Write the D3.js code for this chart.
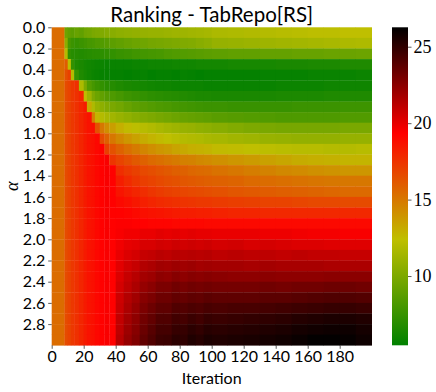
<!DOCTYPE html>
<html>
<head>
<meta charset="utf-8">
<script src="https://cdn.jsdelivr.net/npm/d3@7"></script>
<style>
  body { margin: 0; background: #fff; }
  svg text { fill: #000; }
  .sans { font-family: Lato, "Liberation Sans", sans-serif; }
  .serif { font-family: "Liberation Serif", "DejaVu Serif", serif; }
</style>
</head>
<body>
<svg id="chart" width="436" height="392"></svg>
<script>
// alpha rows (0.0 .. 2.9)
var alphas = [0.0, 0.1, 0.2, 0.3, 0.4, 0.5, 0.6, 0.7, 0.8, 0.9,
              1.0, 1.1, 1.2, 1.3, 1.4, 1.5, 1.6, 1.7, 1.8, 1.9,
              2.0, 2.1, 2.2, 2.3, 2.4, 2.5, 2.6, 2.7, 2.8, 2.9];

// iteration blocks: each value in a row covers [start, next start)
var iterStarts = [0, 8, 10, 12, 14, 17, 20, 22, 25, 27, 30, 33, 36, 40, 45, 50, 55, 60, 65,
                  70, 75, 80, 85, 90, 95, 100, 110, 120, 130, 140, 150, 160, 170, 180, 190];
var iterEnd = 200;

var yTicks = [0.0, 0.2, 0.4, 0.6, 0.8, 1.0, 1.2, 1.4, 1.6, 1.8, 2.0, 2.2, 2.4, 2.6, 2.8];
var xTicks = [0, 20, 40, 60, 80, 100, 120, 140, 160, 180];
var cbarTicks = [10, 15, 20, 25];
var cbarMin = 5.47, cbarMax = 26.27;

// mean rank per alpha row, one value per iteration block
var ranks = [
  [15.4, 9.4, 9.0, 8.8, 9.2, 9.0, 9.5, 9.6, 9.9, 10.0, 10.1, 10.3, 10.4, 10.6, 10.7, 10.8, 10.9, 11.0, 11.0, 11.1, 11.2, 11.2, 11.3, 11.4, 11.5, 11.7, 11.8, 11.9, 12.0, 12.1, 12.2, 12.3, 12.3, 12.4, 12.4],
  [15.4, 10.5, 8.0, 7.6, 7.4, 7.6, 7.8, 8.0, 8.1, 8.3, 8.4, 8.6, 8.8, 9.0, 9.2, 9.4, 9.5, 9.7, 9.8, 9.9, 10.0, 10.1, 10.2, 10.4, 10.6, 10.9, 11.0, 11.1, 11.2, 11.3, 11.4, 11.5, 11.6, 11.7, 11.8],
  [15.4, 12.0, 7.2, 6.9, 6.8, 6.7, 6.8, 6.9, 7.0, 7.0, 7.1, 7.2, 7.3, 7.5, 7.6, 7.8, 7.9, 8.0, 8.1, 8.3, 8.4, 8.5, 8.6, 8.7, 8.8, 8.9, 9.0, 9.0, 9.1, 9.1, 9.2, 9.2, 9.3, 9.3, 9.4],
  [15.4, 16.0, 12.3, 7.3, 6.6, 6.4, 6.2, 6.1, 6.0, 5.9, 5.9, 5.8, 5.8, 5.8, 5.8, 5.9, 5.9, 6.0, 6.0, 6.0, 6.1, 6.1, 6.1, 6.2, 6.2, 6.2, 6.3, 6.3, 6.3, 6.4, 6.4, 6.5, 6.5, 6.6, 6.6],
  [15.4, 16.5, 17.0, 12.0, 7.4, 6.6, 6.3, 6.1, 5.9, 5.8, 5.7, 5.7, 5.6, 5.6, 5.5, 5.6, 5.7, 5.5, 5.6, 5.6, 5.5, 5.7, 5.6, 5.5, 5.6, 5.6, 5.6, 5.6, 5.7, 5.7, 5.7, 5.8, 5.8, 5.8, 5.9],
  [15.4, 16.6, 16.9, 17.3, 17.6, 11.8, 10.0, 8.5, 8.0, 7.6, 7.3, 7.0, 6.8, 6.6, 6.4, 6.3, 6.2, 6.1, 6.0, 6.0, 5.9, 5.9, 5.9, 5.9, 5.8, 5.8, 5.8, 5.8, 5.8, 5.9, 5.9, 5.9, 6.0, 6.0, 6.0],
  [15.4, 16.6, 16.9, 17.3, 17.6, 18.0, 12.5, 11.2, 10.0, 9.4, 9.0, 8.6, 8.3, 8.0, 7.7, 7.5, 7.3, 7.1, 7.0, 6.9, 6.8, 6.7, 6.6, 6.5, 6.5, 6.4, 6.4, 6.4, 6.4, 6.5, 6.5, 6.5, 6.6, 6.6, 6.6],
  [15.4, 16.6, 16.9, 17.3, 17.6, 18.0, 18.4, 13.2, 11.8, 11.0, 10.6, 10.2, 9.9, 9.6, 9.2, 8.9, 8.7, 8.5, 8.3, 8.2, 8.0, 7.9, 7.8, 7.7, 7.6, 7.6, 7.5, 7.5, 7.5, 7.5, 7.6, 7.6, 7.6, 7.7, 7.7],
  [15.4, 16.6, 16.9, 17.3, 17.6, 18.0, 18.4, 18.7, 14.8, 12.8, 12.0, 11.6, 11.3, 11.0, 10.7, 10.4, 10.2, 10.0, 9.8, 9.6, 9.4, 9.2, 9.1, 9.0, 8.9, 8.7, 8.6, 8.5, 8.4, 8.3, 8.3, 8.3, 8.3, 8.4, 8.4],
  [15.4, 16.6, 16.9, 17.3, 17.6, 18.0, 18.4, 18.7, 18.8, 16.4, 15.0, 14.2, 13.6, 13.0, 12.6, 12.3, 12.1, 11.9, 11.6, 11.4, 11.2, 11.0, 10.9, 10.7, 10.6, 10.4, 10.2, 10.0, 9.9, 9.8, 9.8, 9.8, 9.8, 9.9, 9.9],
  [15.4, 16.6, 16.9, 17.3, 17.6, 18.0, 18.4, 18.7, 18.8, 19.1, 16.6, 15.8, 15.0, 14.4, 13.9, 13.5, 13.1, 12.8, 12.6, 12.4, 12.2, 12.0, 11.9, 11.8, 11.6, 11.5, 11.3, 11.2, 11.0, 10.9, 10.8, 10.8, 10.8, 10.9, 10.9],
  [15.4, 16.6, 16.9, 17.3, 17.6, 18.0, 18.4, 18.7, 18.8, 19.1, 19.3, 17.0, 16.4, 15.8, 15.3, 14.9, 14.5, 14.2, 13.9, 13.7, 13.4, 13.2, 13.0, 12.9, 12.8, 12.6, 12.5, 12.4, 12.3, 12.2, 12.1, 12.1, 12.0, 12.0, 12.1],
  [15.4, 16.6, 16.9, 17.3, 17.6, 18.0, 18.4, 18.7, 18.8, 19.1, 19.3, 19.5, 17.4, 16.9, 16.5, 16.1, 15.8, 15.5, 15.3, 15.1, 14.9, 14.7, 14.6, 14.4, 14.3, 14.1, 13.9, 13.7, 13.5, 13.3, 13.1, 13.0, 12.9, 12.8, 12.8],
  [15.4, 16.6, 16.9, 17.3, 17.6, 18.0, 18.4, 18.7, 18.8, 19.1, 19.3, 19.5, 19.3, 17.7, 17.3, 17.0, 16.7, 16.5, 16.3, 16.1, 15.9, 15.8, 15.6, 15.5, 15.4, 15.2, 15.0, 14.8, 14.6, 14.4, 14.3, 14.1, 14.0, 13.9, 13.9],
  [15.4, 16.6, 16.9, 17.3, 17.6, 18.0, 18.4, 18.7, 18.8, 19.1, 19.3, 19.5, 19.3, 18.3, 17.8, 17.4, 17.1, 16.9, 16.7, 16.5, 16.4, 16.2, 16.1, 16.0, 15.9, 15.8, 15.7, 15.5, 15.4, 15.3, 15.2, 15.1, 15.0, 15.0, 15.0],
  [15.4, 16.6, 16.9, 17.3, 17.6, 18.0, 18.4, 18.7, 18.8, 19.1, 19.3, 19.5, 19.3, 18.6, 18.3, 18.0, 17.7, 17.4, 17.2, 17.0, 16.9, 16.8, 16.7, 16.6, 16.5, 16.4, 16.2, 16.1, 16.0, 15.9, 15.8, 15.7, 15.6, 15.5, 15.5],
  [15.4, 16.6, 16.9, 17.3, 17.6, 18.0, 18.4, 18.7, 18.8, 19.1, 19.3, 19.5, 19.3, 19.0, 18.8, 18.5, 18.2, 18.0, 17.8, 17.7, 17.6, 17.5, 17.4, 17.3, 17.3, 17.2, 17.1, 17.0, 16.9, 16.9, 16.8, 16.7, 16.7, 16.6, 16.6],
  [15.4, 16.6, 16.9, 17.3, 17.6, 18.0, 18.4, 18.7, 18.8, 19.1, 19.3, 19.5, 19.3, 19.3, 19.2, 19.0, 18.8, 18.7, 18.6, 18.5, 18.4, 18.3, 18.3, 18.2, 18.2, 18.1, 18.0, 18.0, 17.9, 17.9, 17.9, 17.9, 17.9, 17.9, 17.9],
  [15.4, 16.6, 16.9, 17.3, 17.6, 18.0, 18.4, 18.7, 18.8, 19.1, 19.3, 19.5, 19.3, 19.4, 19.4, 19.3, 19.3, 19.2, 19.2, 19.2, 19.1, 19.1, 19.1, 19.1, 19.0, 19.0, 19.0, 19.0, 19.0, 19.0, 19.0, 19.0, 19.0, 19.0, 19.0],
  [15.4, 16.6, 16.9, 17.3, 17.6, 18.0, 18.4, 18.7, 18.8, 19.1, 19.3, 19.5, 19.3, 19.5, 19.7, 19.7, 19.9, 19.9, 20.1, 20.0, 20.1, 20.0, 20.1, 20.0, 20.0, 19.9, 19.9, 19.9, 19.8, 19.8, 19.7, 19.6, 19.6, 19.5, 19.5],
  [15.4, 16.6, 16.9, 17.3, 17.6, 18.0, 18.4, 18.7, 18.8, 19.1, 19.3, 19.5, 19.3, 19.7, 20.0, 20.1, 20.4, 20.4, 20.6, 20.5, 20.7, 20.6, 20.7, 20.6, 20.7, 20.5, 20.6, 20.4, 20.5, 20.4, 20.3, 20.3, 20.2, 20.2, 20.2],
  [15.4, 16.6, 16.9, 17.3, 17.6, 18.0, 18.4, 18.7, 18.8, 19.1, 19.3, 19.5, 19.3, 19.9, 20.3, 20.5, 20.9, 21.0, 21.2, 21.1, 21.3, 21.2, 21.3, 21.2, 21.3, 21.1, 21.2, 21.1, 21.1, 21.0, 21.1, 21.0, 21.0, 20.9, 20.9],
  [15.4, 16.6, 16.9, 17.3, 17.6, 18.0, 18.4, 18.7, 18.8, 19.1, 19.3, 19.5, 19.3, 20.1, 20.6, 20.9, 21.4, 21.6, 21.9, 21.8, 22.0, 21.9, 22.0, 21.8, 21.9, 21.8, 21.8, 21.7, 21.8, 21.7, 21.7, 21.7, 21.6, 21.6, 21.6],
  [15.4, 16.6, 16.9, 17.3, 17.6, 18.0, 18.4, 18.7, 18.8, 19.1, 19.3, 19.5, 19.3, 20.3, 20.9, 21.3, 21.8, 22.0, 22.4, 22.3, 22.6, 22.4, 22.6, 22.5, 22.6, 22.5, 22.4, 22.4, 22.5, 22.4, 22.4, 22.4, 22.5, 22.5, 22.5],
  [15.4, 16.6, 16.9, 17.3, 17.6, 18.0, 18.4, 18.7, 18.8, 19.1, 19.3, 19.5, 19.3, 20.5, 21.1, 21.6, 22.2, 22.5, 22.9, 22.9, 23.2, 23.0, 23.2, 23.1, 23.2, 23.1, 23.1, 23.1, 23.2, 23.1, 23.2, 23.2, 23.3, 23.3, 23.2],
  [15.4, 16.6, 16.9, 17.3, 17.6, 18.0, 18.4, 18.7, 18.8, 19.1, 19.3, 19.5, 19.3, 20.7, 21.4, 21.9, 22.6, 22.9, 23.3, 23.3, 23.6, 23.5, 23.7, 23.6, 23.8, 23.7, 23.7, 23.7, 23.8, 23.8, 23.9, 24.0, 24.1, 24.1, 24.0],
  [15.4, 16.6, 16.9, 17.3, 17.6, 18.0, 18.4, 18.7, 18.8, 19.1, 19.3, 19.5, 19.3, 20.8, 21.6, 22.2, 22.9, 23.3, 23.7, 23.7, 24.1, 24.0, 24.2, 24.1, 24.3, 24.2, 24.3, 24.3, 24.4, 24.5, 24.6, 24.7, 24.8, 24.8, 24.7],
  [15.4, 16.6, 16.9, 17.3, 17.6, 18.0, 18.4, 18.7, 18.8, 19.1, 19.3, 19.5, 19.3, 21.0, 21.8, 22.4, 23.2, 23.6, 24.1, 24.1, 24.5, 24.4, 24.7, 24.5, 24.8, 24.7, 24.8, 24.9, 25.0, 25.1, 25.3, 25.4, 25.5, 25.5, 25.4],
  [15.4, 16.6, 16.9, 17.3, 17.6, 18.0, 18.4, 18.7, 18.8, 19.1, 19.3, 19.5, 19.3, 21.1, 22.0, 22.6, 23.4, 23.9, 24.4, 24.4, 24.8, 24.8, 25.1, 24.9, 25.2, 25.1, 25.2, 25.3, 25.4, 25.5, 25.7, 25.8, 25.9, 25.9, 25.7],
  [15.4, 16.6, 16.9, 17.3, 17.6, 18.0, 18.4, 18.7, 18.8, 19.1, 19.3, 19.5, 19.3, 21.3, 22.2, 22.8, 23.6, 24.1, 24.6, 24.7, 25.1, 25.0, 25.4, 25.2, 25.5, 25.4, 25.5, 25.6, 25.7, 25.8, 26.0, 26.2, 26.2, 26.1, 25.9]
];

var svg = d3.select("#chart");
var plot = { left: 51.7, top: 27.3, width: 320, height: 318 };

var x = d3.scaleLinear().domain([0, iterEnd]).range([plot.left, plot.left + plot.width]);
var y = d3.scaleLinear().domain([0, 3.0]).range([plot.top, plot.top + plot.height]);
var rowH = y(0.1) - y(0);

var cmapStops = d3.range(4).map(function(i) { return cbarMin + i * (cbarMax - cbarMin) / 3; });
var color = d3.scaleLinear()
  .domain(cmapStops)
  .range(["#008000", "#bfbf00", "#ff0000", "#000000"])
  .interpolate(d3.interpolateRgb)
  .clamp(true);

// heatmap cells
var cells = [];
ranks.forEach(function(row, r) {
  row.forEach(function(v, g) {
    var x0 = iterStarts[g];
    var x1 = g + 1 < iterStarts.length ? iterStarts[g + 1] : iterEnd;
    cells.push({ a: alphas[r], x0: x0, x1: x1, v: v });
  });
});

svg.append("g").classed("cells", true)
  .selectAll("rect").data(cells).join("rect")
  .attr("x", function(d) { return x(d.x0); })
  .attr("y", function(d) { return y(d.a); })
  .attr("width", function(d) { return x(d.x1) - x(d.x0) + 0.3; })
  .attr("height", rowH + 0.3)
  .attr("fill", function(d) { return color(d.v); });

// axes
var yAxis = svg.append("g")
  .attr("transform", "translate(" + plot.left + ",0)")
  .call(d3.axisLeft(y).tickValues(yTicks).tickFormat(d3.format(".1f")).tickSize(3.5).tickPadding(3));
var xAxis = svg.append("g")
  .attr("transform", "translate(0," + (plot.top + plot.height) + ")")
  .call(d3.axisBottom(x).tickValues(xTicks).tickSize(3.5).tickPadding(2));
[yAxis, xAxis].forEach(function(ax) {
  ax.select(".domain").remove();
  ax.selectAll(".tick line").attr("stroke", "#333").attr("stroke-width", 0.8);
  ax.selectAll(".tick text").attr("class", "sans").style("font-size", "16px").attr("fill", "#000");
});

// titles
svg.append("text").attr("class", "sans")
  .attr("x", plot.left + plot.width / 2).attr("y", 21.5)
  .attr("text-anchor", "middle").style("font-size", "20.5px")
  .text("Ranking - TabRepo[RS]");
svg.append("text").attr("class", "sans")
  .attr("x", plot.left + plot.width / 2).attr("y", 384)
  .attr("text-anchor", "middle").style("font-size", "16px")
  .text("Iteration");
svg.append("text").attr("class", "serif")
  .attr("transform", "translate(18," + (plot.top + plot.height / 2) + ") rotate(-90)")
  .attr("text-anchor", "middle").style("font-size", "18px").style("font-style", "italic")
  .text("α");

// colorbar
var cb = { left: 392, width: 16 };
var cy = d3.scaleLinear().domain([cbarMin, cbarMax]).range([plot.top + plot.height, plot.top]);
var grad = svg.append("defs").append("linearGradient")
  .attr("id", "cbgrad").attr("x1", 0).attr("y1", 1).attr("x2", 0).attr("y2", 0);
grad.selectAll("stop").data(cmapStops).join("stop")
  .attr("offset", function(d) { return (d - cbarMin) / (cbarMax - cbarMin); })
  .attr("stop-color", function(d) { return color(d); });
svg.append("rect")
  .attr("x", cb.left).attr("y", plot.top)
  .attr("width", cb.width).attr("height", plot.height)
  .attr("fill", "url(#cbgrad)");

var cAxis = svg.append("g")
  .attr("transform", "translate(" + (cb.left + cb.width) + ",0)")
  .call(d3.axisRight(cy).tickValues(cbarTicks).tickSize(3.5).tickPadding(2));
cAxis.select(".domain").remove();
cAxis.selectAll(".tick line").attr("stroke", "#333").attr("stroke-width", 0.8);
cAxis.selectAll(".tick text").attr("class", "serif").style("font-size", "18px").attr("fill", "#000");
</script>
</body>
</html>
